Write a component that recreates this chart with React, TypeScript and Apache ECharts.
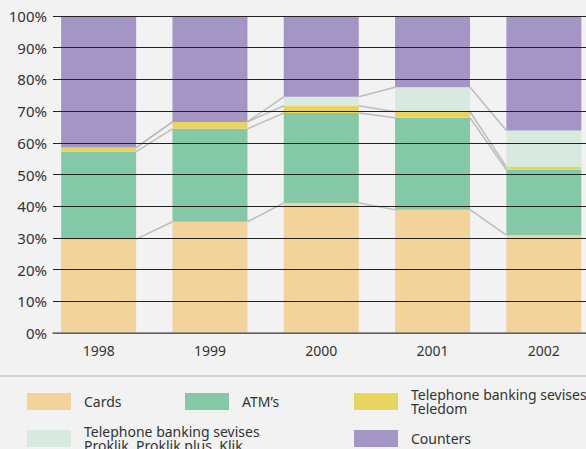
import React, { useEffect, useRef } from 'react';
import * as echarts from 'echarts';

const years = ['1998', '1999', '2000', '2001', '2002'];
const cards = [29.6, 35.1, 41.0, 38.9, 30.9];
const atms = [27.6, 29.3, 28.4, 29.0, 20.6];
const teledom = [1.3, 2.2, 2.3, 1.9, 0.9];
const proklik = [0, 0, 2.8, 7.7, 11.5];
const counters = [41.5, 33.4, 25.5, 22.5, 36.1];

const seriesNames = [
  'Cards',
  'ATM’s',
  'Telephone banking sevises\nTeledom',
  'Telephone banking sevises\nProklik, Proklik plus, Klik',
  'Counters',
];
const colors = ['#f1d39b', '#85c8a8', '#e9d45f', '#d8eadf', '#a396c5'];

const FONT = '"Noto Sans", "Open Sans", sans-serif';
const CHART_W = 600;
const VIEW_W = 586;

export default function App() {
  const ref = useRef<HTMLDivElement>(null);
  useEffect(() => {
    const chart = echarts.init(ref.current!, null, { renderer: 'svg' });
    const values = [cards, atms, teledom, proklik, counters];
    const levels: number[][] = [];
    let acc = years.map(() => 0);
    for (let k = 0; k < 4; k++) {
      acc = acc.map((a, i) => a + values[k][i]);
      levels.push(acc.slice());
    }
    const connData: number[][] = [];
    levels.forEach((lv) => {
      for (let i = 0; i < years.length - 1; i++) connData.push([i, lv[i], lv[i + 1]]);
    });
    const BAR_W = 75;

    // legend layout: [swatchX, centerY, textX]
    const legendPos = [
      [27, 401.5, 84],
      [185, 401.5, 242],
      [354, 401.5, 411],
      [27, 438.5, 84],
      [354, 438.5, 411],
    ];
    const legendGraphics: any[] = [];
    seriesNames.forEach((name, k) => {
      const [sx, cy, tx] = legendPos[k];
      legendGraphics.push({
        type: 'rect',
        shape: { x: sx, y: cy - 8.5, width: 44, height: 17 },
        style: { fill: colors[k] },
      });
      legendGraphics.push({
        type: 'text',
        x: tx,
        y: cy,
        style: {
          text: name,
          fill: '#333',
          font: `14px ${FONT}`,
          lineHeight: 14,
          verticalAlign: 'middle',
          align: 'left',
        },
      });
    });

    chart.setOption({
      animation: false,
      backgroundColor: '#f2f2f2',
      grid: [
        { left: 43, top: 16, width: 556.5, height: 317 },
        { left: 53, top: 16, right: CHART_W - VIEW_W, height: 317 },
      ],
      xAxis: [
        {
          type: 'category',
          gridIndex: 0,
          data: years,
          axisLine: { show: false },
          axisTick: { show: false },
          axisLabel: { fontSize: 14, color: '#333', margin: 10, fontFamily: FONT },
        },
        {
          type: 'value',
          gridIndex: 1,
          min: 0,
          max: 1,
          axisLine: { show: true, onZero: false, lineStyle: { color: '#777', width: 1.5 } },
          axisTick: { show: false },
          axisLabel: { show: false },
          splitLine: { show: false },
          z: 6,
        },
      ],
      yAxis: [
        { type: 'value', gridIndex: 0, min: 0, max: 100, show: false },
        {
          type: 'value',
          gridIndex: 1,
          min: 0,
          max: 100,
          interval: 10,
          axisLine: { show: false },
          axisTick: { show: false },
          axisLabel: { formatter: '{value}%', fontSize: 15, color: '#333', margin: 6, fontFamily: FONT },
          splitLine: { show: true, lineStyle: { color: '#222', width: 1 } },
          z: 5,
        },
      ],
      series: [
        ...values.map((d, k) => ({
          type: 'bar',
          name: seriesNames[k],
          xAxisIndex: 0,
          yAxisIndex: 0,
          stack: 'total',
          barWidth: BAR_W,
          itemStyle: { color: colors[k] },
          data: d,
        })),
        {
          type: 'custom',
          xAxisIndex: 0,
          yAxisIndex: 0,
          z: 3,
          encode: { x: 0, y: [1, 2] },
          data: connData,
          renderItem: (params: any, api: any) => {
            const i = api.value(0);
            const p0 = api.coord([i, api.value(1)]);
            const p1 = api.coord([i + 1, api.value(2)]);
            return {
              type: 'line',
              shape: { x1: p0[0] + BAR_W / 2, y1: p0[1], x2: p1[0] - BAR_W / 2, y2: p1[1] },
              style: { stroke: '#bdbdbd', lineWidth: 1.5 },
            };
          },
        },
      ],
      graphic: [
        {
          type: 'line',
          shape: { x1: 0, y1: 376, x2: CHART_W, y2: 376 },
          style: { stroke: '#c8c8c8', lineWidth: 1.5 },
        },
        ...legendGraphics,
      ],
    });
    return () => chart.dispose();
  }, []);
  return (
    <div
      style={{ position: 'fixed', left: 0, top: 0, width: VIEW_W, height: 449, overflow: 'hidden' }}
    >
      <div ref={ref} style={{ width: CHART_W, height: 449 }} />
    </div>
  );
}
